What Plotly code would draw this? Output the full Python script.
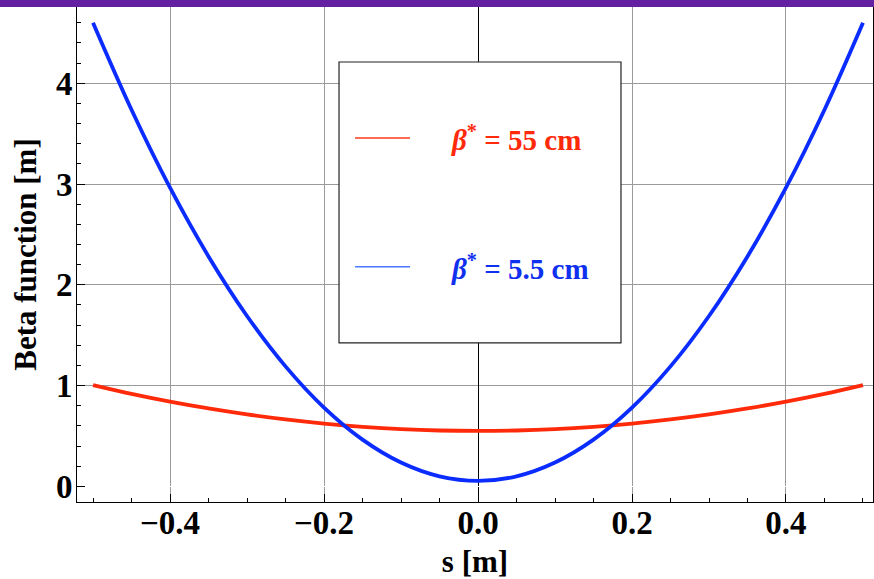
import plotly.graph_objects as go

# Data
s_vals = [-0.5, -0.45, -0.4, -0.35, -0.3, -0.25, -0.2, -0.15, -0.1, -0.05, 0.0,
          0.05, 0.1, 0.15, 0.2, 0.25, 0.3, 0.35, 0.4, 0.45, 0.5]
beta_55 = [1.005, 0.918, 0.841, 0.773, 0.714, 0.664, 0.623, 0.591, 0.568, 0.5545, 0.55,
           0.5545, 0.568, 0.591, 0.623, 0.664, 0.714, 0.773, 0.841, 0.918, 1.005]
beta_5p5 = [4.600, 3.737, 2.964, 2.282, 1.691, 1.191, 0.782, 0.464, 0.237, 0.100, 0.055,
            0.100, 0.237, 0.464, 0.782, 1.191, 1.691, 2.282, 2.964, 3.737, 4.600]
series_names = ["<i>β</i><sup>*</sup> = 55 cm", "<i>β</i><sup>*</sup> = 5.5 cm"]
x_tick_vals = [-0.4, -0.2, 0.0, 0.2, 0.4]
y_tick_vals = [0, 1, 2, 3, 4]

RED = "#FF2A0A"
BLUE = "#0A2CFF"
FONT = "Liberation Serif"

fig = go.Figure()
fig.add_trace(go.Scatter(x=s_vals, y=beta_55, mode="lines", line=dict(color=RED, width=3.8, shape="spline"),
                         name=series_names[0], showlegend=False))
fig.add_trace(go.Scatter(x=s_vals, y=beta_5p5, mode="lines", line=dict(color=BLUE, width=3.8, shape="spline"),
                         name=series_names[1], showlegend=False))

# legend box (manual)
fig.add_shape(type="rect", xref="x", yref="y", x0=-0.1805, x1=0.1857, y0=1.425, y1=4.211,
              fillcolor="white", line=dict(color="#222222", width=1.2), layer="above")
legend_y = [3.458, 2.179]
legend_line_colors = ["#FF3A1A", "#4A78FF"]
legend_text_colors = [RED, "#1030F0"]
for i in range(2):
    fig.add_shape(type="line", xref="x", yref="y", x0=-0.1597, x1=-0.0883, y0=legend_y[i], y1=legend_y[i],
                  line=dict(color=legend_line_colors[i], width=1.5), layer="above")
    fig.add_annotation(xref="x", yref="y", x=-0.0377, y=legend_y[i], text=series_names[i], showarrow=False,
                       xanchor="left", yanchor="middle",
                       font=dict(family=FONT, size=29, color=legend_text_colors[i], weight="bold"))

# purple top bar
fig.add_shape(type="rect", xref="paper", yref="paper", x0=-0.12, x1=1.01, y0=1.0, y1=1.03,
              fillcolor="#6320A0", line=dict(width=0), layer="above")

fig.update_layout(
    width=874, height=579,
    margin=dict(l=77, r=1, t=7, b=77, autoexpand=False),
    paper_bgcolor="white", plot_bgcolor="white",
    font=dict(family=FONT, color="black"),
)
fig.update_xaxes(
    range=[-0.5208, 0.513], tickvals=x_tick_vals, tickformat=".1f",
    ticks="inside", ticklen=8, tickcolor="black", tickwidth=1,
    ticklabelstandoff=-9,
    tickfont=dict(family=FONT, size=33, weight="bold", color="black"),
    showgrid=True, gridcolor="#9a9a9a", gridwidth=1,
    zeroline=True, zerolinecolor="black", zerolinewidth=1,
    showline=True, linecolor="black", linewidth=1, mirror=True,
    minor=dict(dtick=0.05, tick0=0, ticks="inside", ticklen=4, tickcolor="black", showgrid=False),
    title=dict(text="s [m]", standoff=22, font=dict(family=FONT, size=31, weight="bold", color="black")),
    automargin=False,
)
fig.update_yaxes(
    range=[-0.155, 4.757], tickvals=y_tick_vals,
    ticks="inside", ticklen=8, tickcolor="black", tickwidth=1,
    ticklabelstandoff=-3,
    tickfont=dict(family=FONT, size=33, weight="bold", color="black"),
    showgrid=True, gridcolor="#9a9a9a", gridwidth=1,
    zeroline=True, zerolinecolor="white", zerolinewidth=1,
    showline=True, linecolor="black", linewidth=1, mirror=True,
    minor=dict(dtick=0.2, tick0=0, ticks="inside", ticklen=4, tickcolor="black", showgrid=False),
    title=dict(text="Beta function [m]", standoff=10, font=dict(family=FONT, size=31, weight="bold", color="black")),
    automargin=False,
)

fig.write_html("out.html", config={"displayModeBar": False},
               post_script="document.body.style.margin='0';document.body.style.overflow='hidden';")
